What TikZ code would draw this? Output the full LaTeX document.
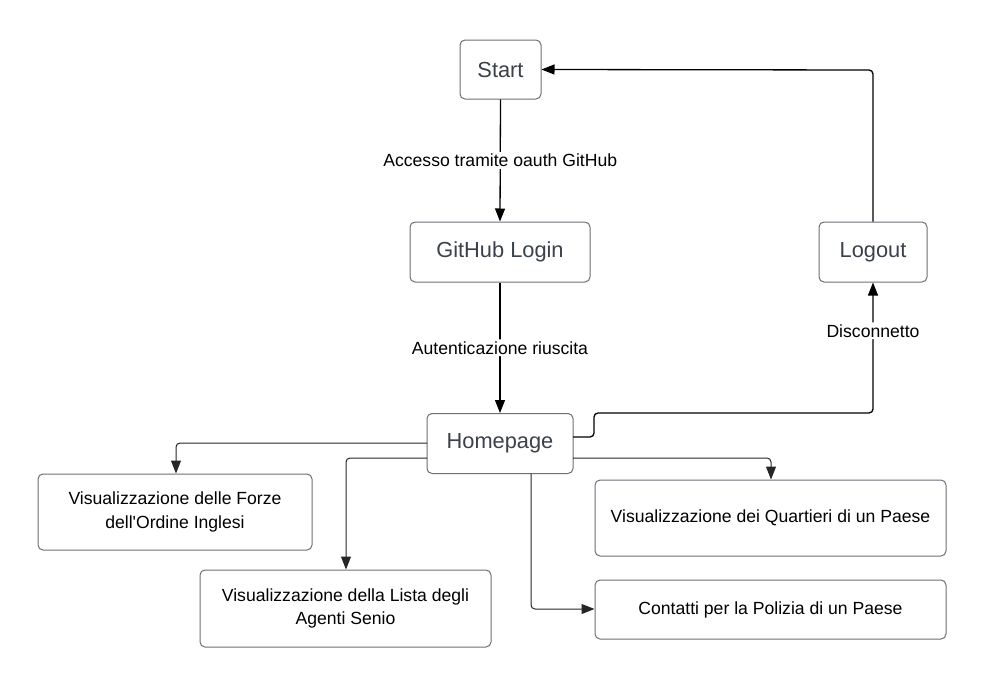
\documentclass[tikz,border=0pt]{standalone}
\usepackage{fontspec}
\setmainfont{Liberation Sans}
\usetikzlibrary{arrows.meta}
\definecolor{boxtext}{HTML}{3A414A}
\definecolor{boxline}{HTML}{6B6F76}
\begin{document}
\begin{tikzpicture}[x=1pt,y=-1pt,
  bigbox/.style={draw=boxline,line width=1pt,rounded corners=5pt,fill=white,inner sep=0pt,font=\fontsize{21.8}{24}\selectfont,text=boxtext},
  smallbox/.style={draw=boxline,line width=1pt,rounded corners=5pt,fill=white,inner sep=0pt,font=\fontsize{17.6}{23.5}\selectfont,text=black,align=center},
  conn/.style={draw=black,line width=1.3pt,rounded corners=4pt},
  thin/.style={draw=black!85,line width=1pt,rounded corners=4pt},
  tip/.style={-{Triangle[length=13pt,width=10pt]}},
  lbl/.style={fill=white,font=\fontsize{17.6}{20}\selectfont,text=black,inner sep=2pt}]
\useasboundingbox (0,0) rectangle (989,688);
\node[bigbox,minimum width=81pt,minimum height=59pt] (start) at (500.5,69.5) {Start};
\node[bigbox,minimum width=180pt,minimum height=60pt] (login) at (500,252) {GitHub Login};
\node[bigbox,minimum width=108pt,minimum height=60pt] (logout) at (873,252) {Logout};
\node[bigbox,minimum width=146pt,minimum height=60pt] (home) at (500,443.5) {Homepage};
\node[smallbox,minimum width=274pt,minimum height=76pt] (forze) at (175,512) {Visualizzazione delle Forze\\dell\textquotesingle Ordine Inglesi};
\node[smallbox,minimum width=291pt,minimum height=77pt] (lista) at (345.5,608.5) {Visualizzazione della Lista degli\\Agenti Senio};
\node[smallbox,minimum width=351pt,minimum height=76pt] (quart) at (770.5,518) {Visualizzazione dei Quartieri di un Paese};
\node[smallbox,minimum width=351pt,minimum height=59pt] (cont) at (770.5,609.5) {Contatti per la Polizia di un Paese};

\coordinate (hr1) at (573,437);
\coordinate (hr2) at (573,458);
\coordinate (hl1) at (427,443);
\coordinate (hl2) at (427,458);
\coordinate (hb) at (531,473.5);

\draw[conn,tip] (start.south) -- node[lbl,pos=0.5] {Accesso tramite oauth GitHub} (login.north);
\draw[conn,tip] (login.south) -- node[lbl,pos=0.5] {Autenticazione riuscita} (home.north);
\draw[conn,tip] (hr1) -- (594,437) -- (594,413) -- (873,413) -- node[lbl,pos=0.63] {Disconnetto} (logout.south);
\draw[conn,tip] (logout.north) -- (873,70) -- (start.east);
\draw[thin,tip] (hl1) -- (176,443) -- (forze.north -| 176,0);
\draw[thin,tip] (hl2) -- (346,458) -- (lista.north -| 346,0);
\draw[thin,tip] (hr2) -- (771,458) -- (quart.north -| 771,0);
\draw[thin,tip] (hb) -- (531,609) -- (cont.west |- 0,609);
\end{tikzpicture}
\end{document}
